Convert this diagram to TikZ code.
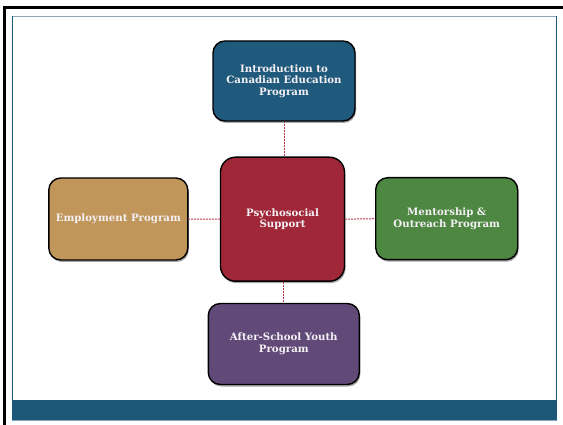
\documentclass[tikz,border=0pt]{standalone}
\usepackage{fontspec}
\setmainfont{DejaVu Serif}
\usetikzlibrary{shadows}
\definecolor{introblue}{HTML}{1F5A7C}
\definecolor{psyred}{HTML}{A02738}
\definecolor{emptan}{HTML}{C0965A}
\definecolor{mentgreen}{HTML}{4E8742}
\definecolor{youthpurple}{HTML}{614A78}
\definecolor{barblue}{HTML}{1E5878}
\definecolor{framegray}{HTML}{8AA4B8}
\definecolor{linered}{HTML}{C23A52}
\definecolor{textwhite}{HTML}{F4F0F4}
\tikzset{
  prog/.style={draw=black, line width=1.4pt, rounded corners=12pt, align=center,
    text=textwhite, font=\fontsize{10.2}{11.6}\selectfont\bfseries,
    drop shadow={shadow xshift=1pt, shadow yshift=-2pt, opacity=0.35, fill=black}},
  link/.style={draw=linered, line width=1pt, dash pattern=on 2pt off 1pt}
}
\begin{document}
\begin{tikzpicture}[x=1pt,y=-1pt]
\useasboundingbox (0,0) rectangle (563,425);
\fill[white] (0,0) rectangle (563,425);
% outer black frame
\fill[black] (3,6) rectangle (563,9);
\fill[black] (3,6) rectangle (6,425);
% inner frame
\draw[framegray, line width=1pt] (12,16.2) -- (557,16.2);
\draw[barblue, line width=1pt] (12.2,16) -- (12.2,400);
\draw[barblue, line width=1pt] (556.3,16) -- (556.3,400);
\fill[barblue] (11.7,400) rectangle (556.8,420);
\draw[framegray, line width=0.8pt] (11.7,420.6) -- (556.8,420.6);
% connectors
\coordinate (c) at (282.5,219.2);
% boxes
\node[prog, fill=introblue, minimum width=142pt, minimum height=80pt] (intro) at (284,81) {Introduction to\\Canadian Education\\Program};
\node[prog, fill=psyred, rounded corners=15pt, minimum width=124pt, minimum height=124pt] (psy) at (282.5,219.2) {Psychosocial\\Support};
\node[prog, fill=emptan, minimum width=139pt, minimum height=82pt] (emp) at (118.3,219) {Employment Program};
\node[prog, fill=mentgreen, minimum width=142pt, minimum height=82pt] (ment) at (446.7,218.7) {Mentorship \&\\Outreach Program};
\node[prog, fill=youthpurple, minimum width=151pt, minimum height=81pt] (youth) at (283.8,344) {After-School Youth\\Program};
\draw[link] (psy.north -| intro.south) -- (intro.south);
\draw[link] (psy.south -| youth.north) -- (youth.north);
\draw[link] (psy.west) -- (emp.east);
\draw[link] (psy.east) -- (ment.west);
\end{tikzpicture}
\end{document}
